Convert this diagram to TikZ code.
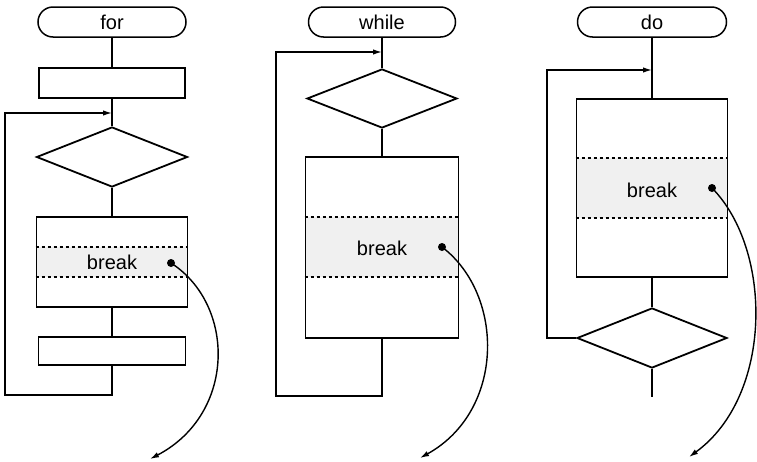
\documentclass[tikz,border=0pt]{standalone}
\usepackage{fontspec}
\setmainfont{Liberation Sans}
\usetikzlibrary{shapes.geometric,shapes.misc,arrows.meta,backgrounds}

\begin{document}
\begin{tikzpicture}[x=1pt,y=-1pt,
  every node/.style={font=\fontsize{20}{24}\selectfont},
  term/.style={rounded rectangle, draw, line width=1.5pt, inner sep=0pt, minimum height=30pt},
  proc/.style={rectangle, draw, line width=1.8pt, inner sep=0pt},
  dec/.style={diamond, draw, line width=1.8pt, inner sep=0pt},
  body/.style={rectangle, draw, line width=1.9pt, inner sep=0pt},
  conn/.style={line width=1.4pt},
  tip/.style={-{Latex[length=9pt,width=5.5pt]}},
  dot/.style={circle, fill=black, inner sep=0pt, minimum size=8pt},
  band/.style={fill=gray!12},
  dashline/.style={line width=1.2pt, dash pattern=on 3pt off 3pt},
  lbl/.style={inner sep=0pt}
]
\useasboundingbox (0,0) rectangle (757,461);

% ---------------- for ----------------
\node[term, minimum width=148pt] (t1) at (112,22) {for};
\node[proc, minimum width=146pt, minimum height=30pt] (p1) at (112,83) {};
\coordinate (m1) at (112,113);
\node[dec, minimum width=151pt, minimum height=60pt] (d1) at (112,157) {};
\node[body, minimum width=151pt, minimum height=90pt] (b1) at (112,262) {};
\node[proc, minimum width=147pt, minimum height=28pt] (p2) at (112,351) {};
\coordinate (y1a) at (0,247);
\coordinate (y1b) at (0,277);
\coordinate (l1) at (112,395);
\coordinate (l1c) at (5,113);
\coordinate (e1) at (150,459);

% ---------------- while ----------------
\node[term, minimum width=147pt] (t2) at (382,22) {while};
\coordinate (m2) at (382,52);
\node[dec, minimum width=150pt, minimum height=59pt] (d2) at (382,98.5) {};
\node[body, minimum width=153pt, minimum height=181pt] (b2) at (382,247.5) {};
\coordinate (y2a) at (0,217);
\coordinate (y2b) at (0,277);
\coordinate (l2) at (382,396);
\coordinate (l2c) at (276,52);
\coordinate (e2) at (420,458);

% ---------------- do ----------------
\node[term, minimum width=149pt] (t3) at (652,22) {do};
\coordinate (m3) at (652,70);
\node[body, minimum width=151pt, minimum height=178pt] (b3) at (652,188) {};
\node[dec, minimum width=150pt, minimum height=60pt] (d3) at (652,338) {};
\coordinate (y3a) at (0,158);
\coordinate (y3b) at (0,218);
\coordinate (l3) at (547,338);
\coordinate (x3) at (652,397);
\coordinate (e3) at (689,457);

% bands (background)
\begin{scope}[on background layer]
\fill[band] (b1.west |- y1a) rectangle (b1.east |- y1b);
\fill[band] (b2.west |- y2a) rectangle (b2.east |- y2b);
\fill[band] (b3.west |- y3a) rectangle (b3.east |- y3b);
\end{scope}
\draw[dashline] (b1.west |- y1a) -- (b1.east |- y1a);
\draw[dashline] (b1.west |- y1b) -- (b1.east |- y1b);
\draw[dashline] (b2.west |- y2a) -- (b2.east |- y2a);
\draw[dashline] (b2.west |- y2b) -- (b2.east |- y2b);
\draw[dashline] (b3.west |- y3a) -- (b3.east |- y3a);
\draw[dashline] (b3.west |- y3b) -- (b3.east |- y3b);

% break labels and dots
\node[lbl] (k1) at (112,262) {break};
\node[dot] (o1) at (171,263) {};
\node[lbl] (k2) at (382,248) {break};
\node[dot] (o2) at (442,247) {};
\node[lbl] (k3) at (652,190) {break};
\node[dot] (o3) at (712,188) {};

% connectors: for
\draw[conn] (t1.south) -- (p1.north);
\draw[conn] (p1.south) -- (d1.north);
\draw[conn] (d1.south) -- (b1.north);
\draw[conn] (b1.south) -- (p2.north);
\draw[conn, tip] (p2.south) -- (l1) -| (l1c) -- (m1);
\draw[conn, tip] (o1.center) .. controls (236,305) and (236,414) .. (e1);

% connectors: while
\draw[conn] (t2.south) -- (d2.north);
\draw[conn] (d2.south) -- (b2.north);
\draw[conn, tip] (b2.south) -- (l2) -| (l2c) -- (m2);
\draw[conn, tip] (o2.center) .. controls (505,295) and (505,411) .. (e2);

% connectors: do
\draw[conn] (t3.south) -- (b3.north);
\draw[conn] (b3.south) -- (d3.north);
\draw[conn] (d3.south) -- (x3);
\draw[conn, tip] (d3.west) -- (l3) |- (m3);
\draw[conn, tip] (o3.center) .. controls (773,250) and (773,396) .. (e3);
\end{tikzpicture}
\end{document}
